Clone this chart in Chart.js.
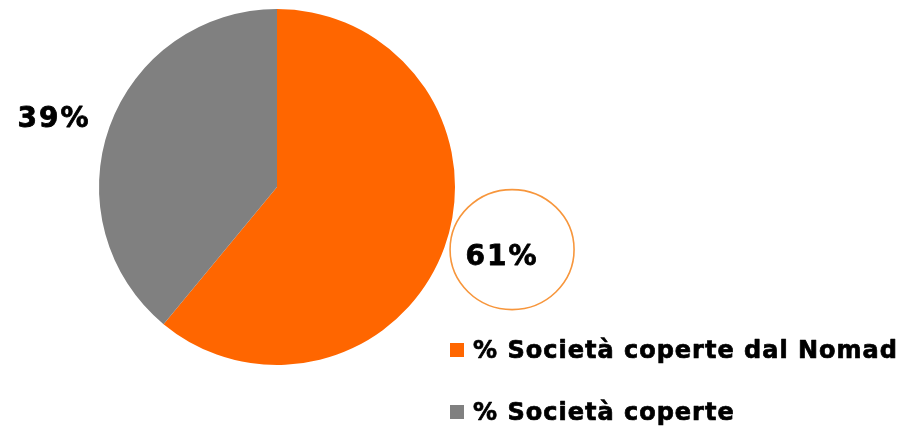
<!DOCTYPE html>
<html>
<head>
<meta charset="utf-8">
<script src="https://cdn.jsdelivr.net/npm/chart.js@4"></script>
<style>
  html, body { margin: 0; padding: 0; background: #ffffff; }
  #wrap { width: 905px; height: 427px; position: relative; }
</style>
</head>
<body>
<div id="wrap"><canvas id="c" width="905" height="427"></canvas></div>
<script>
// ---- data ----
const categories = ['% Società coperte dal Nomad', '% Società coperte'];
const values = [61, 39];
const valueLabels = ['61%', '39%'];

// ---- styles ----
const sliceColors = ['#FF6600', '#808080'];
const FONT = '"DejaVu Sans", Verdana, sans-serif';

function heavyText(ctx, txt, x, y, w) {
  ctx.lineWidth = w;
  ctx.strokeStyle = '#000000';
  ctx.lineJoin = 'round';
  ctx.strokeText(txt, x, y);
  ctx.fillText(txt, x, y);
}

const labelPlugin = {
  id: 'customLabels',
  afterDraw(chart) {
    const ctx = chart.ctx;
    const meta = chart.getDatasetMeta(0);
    const adjust = [
      {dx: 3, dy: -9, circle: {dx: 14, dy: -17}},
      {dx: -3, dy: 12, circle: null}
    ];
    ctx.save();
    meta.data.forEach((arc, i) => {
      const p = arc.getProps(['x', 'y', 'startAngle', 'endAngle', 'outerRadius'], true);
      const mid = (p.startAngle + p.endAngle) / 2;
      const d = p.outerRadius * 1.32;
      const bx = p.x + Math.cos(mid) * d;
      const by = p.y + Math.sin(mid) * d;
      const a = adjust[i];
      if (a.circle) {
        ctx.beginPath();
        ctx.ellipse(bx + a.circle.dx, by + a.circle.dy, 62, 60, 0, 0, Math.PI * 2);
        ctx.strokeStyle = '#F7963C';
        ctx.lineWidth = 1.6;
        ctx.stroke();
      }
      ctx.fillStyle = '#000000';
      ctx.font = 'bold 28px ' + FONT;
      ctx.letterSpacing = '2px';
      ctx.textAlign = 'center';
      ctx.textBaseline = 'middle';
      heavyText(ctx, valueLabels[i], bx + a.dx + 1, by + a.dy, 0.8);
    });
    // legend
    const lgX = 450, lgY0 = 343, lgStep = 62, sq = 14;
    ctx.font = 'bold 24px ' + FONT;
    ctx.letterSpacing = '1px';
    ctx.textAlign = 'left';
    ctx.textBaseline = 'alphabetic';
    categories.forEach((name, i) => {
      const y = lgY0 + i * lgStep;
      ctx.fillStyle = sliceColors[i];
      ctx.fillRect(lgX, y, sq, sq);
      ctx.fillStyle = '#000000';
      heavyText(ctx, name, lgX + 23, y + 15, 0.7);
    });
    ctx.restore();
  }
};

new Chart(document.getElementById('c'), {
  type: 'pie',
  data: {
    labels: categories,
    datasets: [{
      data: values,
      backgroundColor: sliceColors,
      borderWidth: 0,
      hoverOffset: 0
    }]
  },
  options: {
    responsive: false,
    animation: false,
    layout: { padding: { left: 99, top: 9, right: 450, bottom: 62 } },
    plugins: {
      legend: { display: false },
      tooltip: { enabled: false }
    }
  },
  plugins: [labelPlugin]
});
</script>
</body>
</html>
